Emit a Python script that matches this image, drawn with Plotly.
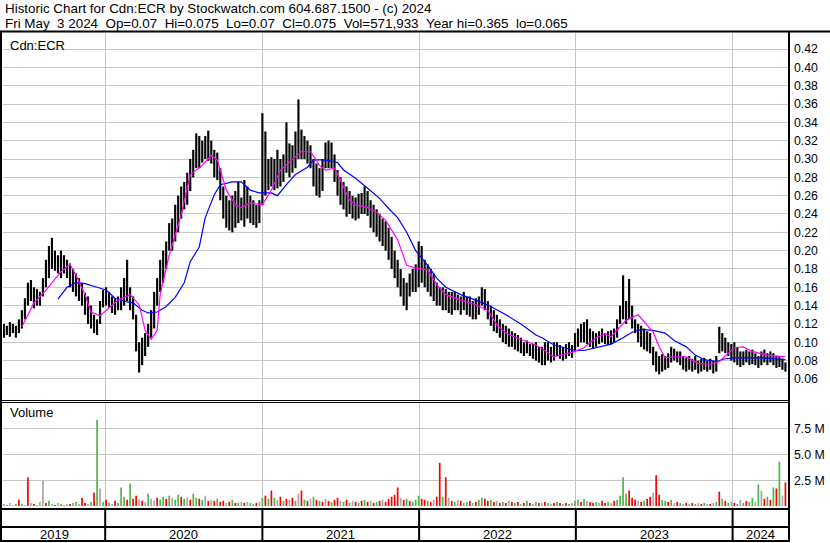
import plotly.graph_objects as go
import pandas as pd

W, H = 830, 543

# ---------------- data (weekly) ----------------
week_start = "2019-05-10"
n_weeks = 261

lows = [
    0.105, 0.108, 0.106, 0.110, 0.105, 0.110, 0.115, 0.125, 0.140, 0.145,
    0.137, 0.140, 0.140, 0.150, 0.160, 0.170, 0.180, 0.178, 0.175, 0.170,
    0.175, 0.170, 0.160, 0.155, 0.150, 0.145, 0.140, 0.130, 0.120, 0.115,
    0.110, 0.108, 0.120, 0.138, 0.140, 0.138, 0.132, 0.130, 0.135, 0.135,
    0.140, 0.145, 0.135, 0.125, 0.090, 0.067, 0.075, 0.085, 0.095, 0.105,
    0.115, 0.140, 0.155, 0.165, 0.180, 0.200, 0.200, 0.210, 0.220, 0.235,
    0.245, 0.250, 0.265, 0.280, 0.290, 0.290, 0.296, 0.300, 0.298, 0.295,
    0.280, 0.277, 0.255, 0.235, 0.225, 0.222, 0.220, 0.225, 0.230, 0.233,
    0.226, 0.235, 0.230, 0.228, 0.225, 0.230, 0.250, 0.260, 0.266, 0.270,
    0.266, 0.268, 0.270, 0.275, 0.285, 0.280, 0.285, 0.290, 0.300, 0.300,
    0.300, 0.295, 0.290, 0.270, 0.260, 0.258, 0.265, 0.290, 0.290, 0.290,
    0.275, 0.260, 0.250, 0.245, 0.237, 0.240, 0.235, 0.233, 0.235, 0.240,
    0.240, 0.238, 0.225, 0.220, 0.215, 0.210, 0.205, 0.200, 0.190, 0.180,
    0.170, 0.160, 0.150, 0.140, 0.135, 0.150, 0.155, 0.155, 0.160, 0.165,
    0.160, 0.155, 0.150, 0.145, 0.140, 0.140, 0.135, 0.135, 0.132, 0.130,
    0.135, 0.135, 0.130, 0.135, 0.130, 0.128, 0.125, 0.125, 0.130, 0.140,
    0.135, 0.125, 0.118, 0.112, 0.110, 0.105, 0.100, 0.098, 0.095, 0.095,
    0.092, 0.090, 0.088, 0.085, 0.088, 0.085, 0.082, 0.080, 0.078, 0.075,
    0.075, 0.080, 0.078, 0.080, 0.085, 0.082, 0.080, 0.082, 0.085, 0.083,
    0.090, 0.095, 0.100, 0.100, 0.098, 0.095, 0.093, 0.095, 0.098, 0.100,
    0.098, 0.097, 0.098, 0.100, 0.105, 0.120, 0.125, 0.120, 0.125, 0.115,
    0.110, 0.100, 0.095, 0.092, 0.090, 0.088, 0.075, 0.068, 0.065, 0.068,
    0.070, 0.072, 0.078, 0.080, 0.078, 0.075, 0.070, 0.068, 0.070, 0.068,
    0.070, 0.066, 0.068, 0.070, 0.068, 0.070, 0.066, 0.068, 0.088, 0.090,
    0.088, 0.085, 0.080, 0.078, 0.075, 0.073, 0.075, 0.078, 0.075, 0.076,
    0.075, 0.072, 0.075, 0.078, 0.075, 0.078, 0.075, 0.072, 0.073, 0.070, 0.068,
]

highs = [
    0.120, 0.118, 0.122, 0.120, 0.118, 0.125, 0.135, 0.148, 0.165, 0.168,
    0.160, 0.158, 0.155, 0.170, 0.190, 0.205, 0.214, 0.200, 0.195, 0.200,
    0.195, 0.190, 0.186, 0.180, 0.175, 0.170, 0.165, 0.154, 0.150, 0.140,
    0.130, 0.125, 0.145, 0.157, 0.160, 0.155, 0.150, 0.148, 0.150, 0.160,
    0.170, 0.190, 0.160, 0.150, 0.130, 0.100, 0.105, 0.110, 0.120, 0.135,
    0.155, 0.170, 0.190, 0.200, 0.210, 0.230, 0.235, 0.250, 0.260, 0.270,
    0.275, 0.285, 0.300, 0.310, 0.328, 0.325, 0.320, 0.325, 0.331, 0.320,
    0.310, 0.307, 0.290, 0.270, 0.260, 0.255, 0.260, 0.265, 0.275, 0.258,
    0.277, 0.270, 0.260, 0.255, 0.250, 0.255, 0.350, 0.330, 0.300, 0.302,
    0.300, 0.310, 0.300, 0.305, 0.340, 0.317, 0.315, 0.330, 0.365, 0.332,
    0.325, 0.320, 0.315, 0.300, 0.295, 0.290, 0.300, 0.318, 0.320, 0.318,
    0.305, 0.288, 0.280, 0.275, 0.270, 0.265, 0.260, 0.258, 0.262, 0.263,
    0.270, 0.265, 0.255, 0.250, 0.245, 0.240, 0.235, 0.232, 0.225, 0.215,
    0.200, 0.190, 0.180, 0.170, 0.165, 0.175, 0.180, 0.185, 0.210, 0.205,
    0.190, 0.185, 0.180, 0.175, 0.165, 0.160, 0.160, 0.158, 0.155, 0.155,
    0.155, 0.152, 0.150, 0.155, 0.150, 0.150, 0.145, 0.148, 0.150, 0.160,
    0.158, 0.145, 0.140, 0.135, 0.130, 0.125, 0.120, 0.118, 0.115, 0.112,
    0.110, 0.108, 0.105, 0.100, 0.102, 0.098, 0.098, 0.100, 0.095, 0.095,
    0.100, 0.100, 0.095, 0.100, 0.100, 0.097, 0.095, 0.098, 0.100, 0.097,
    0.110, 0.115, 0.120, 0.122, 0.125, 0.115, 0.112, 0.110, 0.112, 0.115,
    0.110, 0.112, 0.113, 0.115, 0.125, 0.140, 0.173, 0.145, 0.169, 0.140,
    0.125, 0.120, 0.118, 0.115, 0.112, 0.110, 0.095, 0.090, 0.085, 0.087,
    0.085, 0.088, 0.095, 0.093, 0.090, 0.090, 0.085, 0.083, 0.085, 0.082,
    0.085, 0.080, 0.082, 0.083, 0.080, 0.082, 0.080, 0.085, 0.117, 0.110,
    0.105, 0.100, 0.098, 0.100, 0.095, 0.090, 0.090, 0.092, 0.090, 0.092,
    0.088, 0.085, 0.090, 0.092, 0.088, 0.090, 0.088, 0.085, 0.085, 0.082, 0.078,
]

volume_m = [
    0.2, 0.1, 0.3, 0.1, 0.2, 0.6, 0.2, 0.1, 2.8, 0.3,
    0.2, 0.1, 0.4, 2.5, 0.3, 0.5, 0.2, 0.1, 0.3, 0.2,
    0.1, 0.2, 0.2, 0.3, 0.4, 0.2, 0.8, 0.3, 0.2, 0.4,
    1.3, 8.4, 1.7, 0.4, 0.6, 0.3, 0.2, 0.5, 0.3, 1.8,
    0.9, 0.6, 2.2, 0.7, 1.0, 0.6, 0.5, 0.4, 1.2, 0.7,
    0.5, 0.8, 0.6, 0.9, 0.7, 1.0, 0.8, 0.6, 1.1, 0.9,
    0.7, 0.8, 0.6, 1.2, 0.8, 0.7, 0.6, 1.0, 0.5, 0.6,
    0.5, 0.7, 0.4, 0.5, 0.3, 0.4, 0.6, 0.3, 0.3, 0.4,
    0.3, 0.4, 0.3, 0.2, 0.3, 0.4, 0.8, 1.0, 0.7, 1.5,
    0.8, 0.6, 0.9, 0.5, 0.7, 0.6, 0.8, 0.5, 1.2, 1.5,
    0.6, 0.5, 0.7, 0.9, 0.6, 0.5, 0.4, 0.7, 0.5, 0.4,
    0.6, 0.8, 0.5, 0.4, 0.6, 0.3, 0.5, 0.4, 0.3, 0.5,
    0.6, 0.4, 0.5, 0.3, 0.4, 0.5, 0.6, 0.4, 0.7, 0.9,
    1.1, 1.8, 0.8, 0.6, 0.7, 0.5, 0.4, 0.6, 1.0, 0.7,
    0.6, 0.5, 0.4, 0.6, 0.9, 4.2, 0.9, 2.8, 0.8, 0.5,
    0.4, 0.6, 0.5, 0.3, 0.4, 0.5, 0.3, 0.4, 0.6, 0.8,
    0.7, 0.5, 0.6, 0.4, 0.5, 0.3, 0.4, 0.3, 0.5, 0.4,
    0.3, 0.4, 0.2, 0.3, 0.5, 0.3, 0.2, 0.4, 0.3, 0.3,
    0.4, 0.3, 0.2, 0.3, 0.4, 0.3, 0.2, 0.3, 0.2, 0.3,
    0.5, 0.6, 0.4, 0.7, 0.5, 0.4, 0.3, 0.4, 0.3, 0.5,
    0.3, 0.4, 0.3, 0.5, 0.6, 1.0, 2.8, 1.2, 1.5, 0.8,
    0.6, 0.5, 0.4, 0.5, 0.7, 0.9, 1.3, 3.0, 1.1, 0.6,
    0.5, 0.4, 0.6, 0.3, 0.4, 0.3, 0.2, 0.3, 0.2, 0.3,
    0.2, 0.3, 0.2, 0.3, 0.2, 0.2, 0.3, 0.4, 1.4, 0.7,
    0.5, 0.3, 0.4, 0.3, 0.2, 0.6, 0.3, 0.5, 0.4, 0.8,
    0.4, 2.1, 1.5, 0.7, 0.9, 0.6, 1.8, 1.7, 4.3, 1.0, 2.3,
]

vol_dir = (
    "ngnngrgnrn" "rgnnrgnrng" "gnrggnrrng" "rgngrgnrgg" "grgrrnrngn"
    "nrggrgnggr" "gnrggrgnrn" "rgrrnrgrgn" "rnggrngrgr" "gnrgrnrgnr"
    "grngrgrnrg" "rrngrgnrgr" "grnrgrnrrr" "rrnrgrgggr" "rgrnrrgrnr"
    "gnrggrnrgg" "rrgrnrgrnr" "grnrgrngrn" "rgnrgrnrgn" "ggrgnrrgnr"
    "rgnrggggrr" "rnrgrrnrrg" "grgnrgnrnr" "gnrgnrngrg" "rgnrgngrgg"
    "ngnrgrgrgnr"
)

# moving averages (week index, value)
ma_fast_week = [6, 10, 14, 19, 22, 24, 27, 29, 32, 35, 38, 42, 45, 47, 49, 51, 52, 55,
                59, 62, 66, 69, 71, 74, 77, 79, 82, 86, 89, 92, 96, 99, 102, 105, 107,
                110, 112, 115, 117, 121, 124, 127, 131, 134, 137, 141, 144, 147, 152,
                157, 161, 164, 167, 172, 177, 179, 183, 189, 193, 197, 200, 202, 205,
                207, 211, 213, 216, 218, 220, 223, 227, 231, 235, 238, 241, 243, 246,
                249, 254, 260]
ma_fast_val = [0.117, 0.143, 0.157, 0.177, 0.185, 0.173, 0.152, 0.133, 0.129, 0.137,
               0.146, 0.152, 0.141, 0.113, 0.103, 0.113, 0.152, 0.195, 0.239, 0.283,
               0.293, 0.304, 0.299, 0.266, 0.250, 0.247, 0.252, 0.250, 0.266, 0.288,
               0.299, 0.308, 0.308, 0.293, 0.288, 0.290, 0.277, 0.255, 0.250, 0.247,
               0.242, 0.233, 0.212, 0.184, 0.181, 0.179, 0.163, 0.152, 0.146, 0.141,
               0.135, 0.119, 0.110, 0.103, 0.097, 0.093, 0.084, 0.089, 0.094, 0.105,
               0.109, 0.106, 0.117, 0.124, 0.130, 0.122, 0.111, 0.095, 0.083, 0.084,
               0.084, 0.077, 0.076, 0.079, 0.088, 0.094, 0.095, 0.090, 0.086, 0.084]

ma_slow_week = [18, 21, 24, 27, 31, 34, 37, 41, 43, 46, 48, 51, 54, 57, 60, 62, 65, 67,
                70, 72, 76, 79, 82, 85, 89, 91, 94, 97, 101, 103, 107, 111, 113, 117,
                121, 125, 128, 131, 134, 137, 141, 144, 147, 152, 157, 162, 167, 172,
                177, 179, 183, 187, 190, 193, 198, 202, 206, 209, 212, 216, 220, 223,
                227, 230, 233, 237, 240, 243, 246, 252, 260]
ma_slow_val = [0.147, 0.160, 0.165, 0.164, 0.160, 0.157, 0.148, 0.144, 0.143, 0.135,
               0.132, 0.133, 0.139, 0.149, 0.165, 0.188, 0.204, 0.236, 0.261, 0.272,
               0.275, 0.275, 0.266, 0.263, 0.263, 0.260, 0.272, 0.283, 0.291, 0.299,
               0.299, 0.296, 0.288, 0.279, 0.268, 0.257, 0.246, 0.236, 0.220, 0.200,
               0.184, 0.170, 0.160, 0.152, 0.146, 0.139, 0.130, 0.120, 0.108, 0.105,
               0.097, 0.094, 0.091, 0.091, 0.095, 0.098, 0.105, 0.111, 0.114, 0.113,
               0.110, 0.102, 0.095, 0.086, 0.081, 0.079, 0.082, 0.083, 0.083, 0.083,
               0.081]

price_ticks = [0.06, 0.08, 0.10, 0.12, 0.14, 0.16, 0.18, 0.20, 0.22, 0.24, 0.26,
               0.28, 0.30, 0.32, 0.34, 0.36, 0.38, 0.40, 0.42]
vol_ticks = [2.5, 5.0, 7.5]
vol_tick_text = ["2.5 M", "5.0 M", "7.5 M"]
years = [2019, 2020, 2021, 2022, 2023, 2024]
x_start, x_end = "2019-05-08", "2024-05-09"

header1 = "Historic Chart for Cdn:ECR by Stockwatch.com 604.687.1500 - (c) 2024"
header2 = ("Fri May\u00a0\u00a03 2024\u00a0\u00a0Op=0.07\u00a0\u00a0Hi=0.075\u00a0\u00a0Lo=0.07"
           "\u00a0\u00a0Cl=0.075\u00a0\u00a0Vol=571,933\u00a0\u00a0Year hi=0.365\u00a0\u00a0lo=0.065")

# ---------------- figure ----------------
FONT = "Liberation Sans, Arial, sans-serif"
dates = pd.date_range(week_start, periods=n_weeks, freq="7D")
ms_day = 86400000


def px(xp):
    return xp / W


def py(yp):
    return 1 - yp / H


fig = go.Figure()

fig.add_trace(go.Bar(
    x=dates, y=[h - l for h, l in zip(highs, lows)], base=lows,
    width=5.0 * ms_day, marker=dict(color="#000000", line=dict(width=0)),
    xaxis="x", yaxis="y", showlegend=False, hoverinfo="skip"))

fig.add_trace(go.Scatter(
    x=[dates[i] for i in ma_slow_week], y=ma_slow_val, mode="lines",
    line=dict(color="#0000ff", width=1.2), xaxis="x", yaxis="y",
    showlegend=False, hoverinfo="skip"))
fig.add_trace(go.Scatter(
    x=[dates[i] for i in ma_fast_week], y=ma_fast_val, mode="lines",
    line=dict(color="#ff00ff", width=1.2), xaxis="x", yaxis="y",
    showlegend=False, hoverinfo="skip"))

cmap = {"r": "#ff0000", "g": "#4cb84c", "n": "#a8a8a8"}
fig.add_trace(go.Bar(
    x=dates, y=volume_m, width=4 * ms_day,
    marker=dict(color=[cmap[c] for c in vol_dir], line=dict(width=0)),
    xaxis="x2", yaxis="y2", showlegend=False, hoverinfo="skip"))

year_starts = [f"{y}-01-01" for y in years[1:]]
grid = "#c8c8c8"
xcommon = dict(type="date", range=[x_start, x_end], tickvals=year_starts,
               showticklabels=False, ticks="", showgrid=True, gridcolor=grid,
               gridwidth=1, zeroline=False, showline=False, automargin=False,
               domain=[px(3), px(788)])

fig.update_layout(
    width=W, height=H, margin=dict(l=0, r=0, t=0, b=0, autoexpand=False),
    paper_bgcolor="white", plot_bgcolor="white",
    font=dict(family=FONT, size=12, color="#000000"),
    barmode="overlay",
    xaxis=dict(**xcommon, anchor="y"),
    xaxis2=dict(**xcommon, anchor="y2", matches="x"),
    yaxis=dict(domain=[py(400), py(33)], range=[0.037, 0.4375], side="right",
               tickvals=price_ticks, ticktext=[f"{v:.2f}" for v in price_ticks],
               ticks="", ticklabelstandoff=5, showgrid=True, gridcolor=grid,
               gridwidth=1, zeroline=False, showline=False, anchor="x",
               automargin=False,
               tickfont=dict(family=FONT, size=12.3, color="#000010")),
    yaxis2=dict(domain=[py(508), py(403)], range=[-0.195, 10.02], side="right",
                tickvals=vol_ticks, ticktext=vol_tick_text, ticks="",
                ticklabelstandoff=5, showgrid=True, gridcolor=grid, gridwidth=1,
                zeroline=False, showline=False, anchor="x2", automargin=False,
                tickfont=dict(family=FONT, size=12.3, color="#000010")),
)

shapes = []


def hline(y, x0, x1, w):
    shapes.append(dict(type="line", xref="paper", yref="paper", x0=px(x0), x1=px(x1),
                       y0=py(y), y1=py(y), line=dict(color="black", width=w)))


def vline(x, y0, y1, w):
    shapes.append(dict(type="line", xref="paper", yref="paper", x0=px(x), x1=px(x),
                       y0=py(y0), y1=py(y1), line=dict(color="black", width=w)))


hline(31.5, 0, 830, 2)
hline(400.5, 0, 789, 1)
hline(402.5, 0, 789, 1)
hline(509, 0, 789, 2)
hline(527, 0, 789, 2)
hline(541, 0, 789, 2)
vline(1, 31, 542, 2)
vline(789, 31, 542, 2)
for ys in year_starts:
    shapes.append(dict(type="line", xref="x", yref="paper", x0=ys, x1=ys,
                       y0=py(541), y1=py(509), line=dict(color="black", width=2)))
fig.update_layout(shapes=shapes)

ann = []
ann.append(dict(text=header1, x=px(3), y=py(9), xref="paper", yref="paper",
                xanchor="left", yanchor="middle", showarrow=False,
                font=dict(family=FONT, size=13.4, color="black")))
ann.append(dict(text=header2, x=px(3), y=py(23), xref="paper", yref="paper",
                xanchor="left", yanchor="middle", showarrow=False,
                font=dict(family=FONT, size=13.4, color="black")))
ann.append(dict(text="Cdn:ECR", x=px(8), y=py(45), xref="paper", yref="paper",
                xanchor="left", yanchor="middle", showarrow=False,
                font=dict(family=FONT, size=13, color="black")))
ann.append(dict(text="Volume", x=px(8), y=py(413), xref="paper", yref="paper",
                xanchor="left", yanchor="middle", showarrow=False,
                font=dict(family=FONT, size=13, color="black")))

bounds = [pd.Timestamp(x_start)] + [pd.Timestamp(s) for s in year_starts] + [pd.Timestamp(x_end)]
for yr, a, b in zip(years, bounds[:-1], bounds[1:]):
    ann.append(dict(text=str(yr), x=a + (b - a) / 2, y=py(534), xref="x", yref="paper",
                    xanchor="center", yanchor="middle", showarrow=False,
                    font=dict(family=FONT, size=13, color="black")))
fig.update_layout(annotations=ann)

fig.write_html("out.html",
               config={"displayModeBar": False, "staticPlot": True},
               post_script="document.body.style.margin='0px';"
                           "document.body.style.overflow='hidden';")
